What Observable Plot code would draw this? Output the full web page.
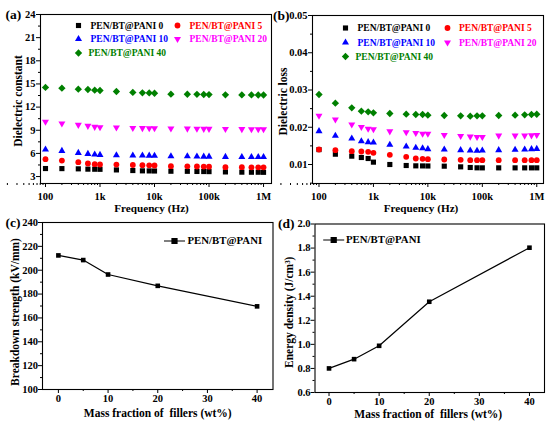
<!DOCTYPE html>
<html>
<head>
<meta charset="utf-8">
<script src="https://cdn.jsdelivr.net/npm/d3@7"></script>
<script src="https://cdn.jsdelivr.net/npm/@observablehq/plot@0.6"></script>
<style>
  html, body { margin: 0; padding: 0; background: #fff; }
  #wrap { position: relative; width: 550px; height: 424px; background: #fff; overflow: hidden; }
  #wrap > svg { position: absolute; }
</style>
</head>
<body>
<div id="wrap"></div>
<script>
// ---------------- data ----------------
const freq = [100, 200, 400, 600, 800, 1e3, 2e3, 4e3, 6e3, 8e3, 1e4, 2e4, 4e4, 6e4, 8e4, 1e5, 2e5, 4e5, 6e5, 8e5, 1e6];
const seriesNames = ["PEN/BT@PANI 0", "PEN/BT@PANI 5", "PEN/BT@PANI 10", "PEN/BT@PANI 20", "PEN/BT@PANI 40"];
const seriesColors = ["#000000", "#ff0000", "#0000ff", "#ff00ff", "#008000"];

const dcPani0  = [4.04, 4.03, 4.00, 3.96, 3.95, 3.94, 3.86, 3.78, 3.74, 3.73, 3.72, 3.69, 3.68, 3.66, 3.65, 3.64, 3.60, 3.57, 3.56, 3.56, 3.55];
const dcPani5  = [5.25, 5.07, 4.86, 4.69, 4.60, 4.56, 4.55, 4.50, 4.47, 4.45, 4.43, 4.35, 4.33, 4.30, 4.29, 4.28, 4.22, 4.21, 4.20, 4.20, 4.20];
const dcPani10 = [6.50, 6.33, 6.07, 5.94, 5.85, 5.81, 5.77, 5.73, 5.72, 5.71, 5.70, 5.64, 5.62, 5.59, 5.58, 5.58, 5.55, 5.54, 5.54, 5.53, 5.53];
const dcPani20 = [10.10, 9.87, 9.70, 9.57, 9.44, 9.40, 9.35, 9.30, 9.28, 9.27, 9.26, 9.22, 9.21, 9.19, 9.18, 9.18, 9.17, 9.15, 9.14, 9.14, 9.14];
const dcPani40 = [14.55, 14.45, 14.32, 14.28, 14.19, 14.15, 14.02, 13.90, 13.85, 13.84, 13.80, 13.68, 13.67, 13.66, 13.63, 13.62, 13.59, 13.58, 13.58, 13.57, 13.57];

const lossPani0  = [0.01400, 0.01277, 0.01224, 0.01188, 0.01161, 0.01063, 0.01000, 0.00973, 0.00964, 0.00962, 0.00960, 0.00955, 0.00937, 0.00920, 0.00911, 0.00910, 0.00910, 0.00910, 0.00910, 0.00910, 0.00910];
const lossPani5  = [0.01403, 0.01385, 0.01358, 0.01349, 0.01340, 0.01313, 0.01260, 0.01206, 0.01161, 0.01152, 0.01143, 0.01134, 0.01125, 0.01116, 0.01116, 0.01116, 0.01116, 0.01116, 0.01116, 0.01116, 0.01116];
const lossPani10 = [0.01895, 0.01770, 0.01698, 0.01626, 0.01600, 0.01591, 0.01528, 0.01483, 0.01447, 0.01438, 0.01412, 0.01403, 0.01385, 0.01376, 0.01367, 0.01376, 0.01385, 0.01394, 0.01403, 0.01412, 0.01420];
const lossPani20 = [0.02310, 0.02210, 0.02075, 0.02005, 0.01960, 0.01945, 0.01890, 0.01865, 0.01845, 0.01828, 0.01826, 0.01790, 0.01765, 0.01748, 0.01740, 0.01740, 0.01775, 0.01775, 0.01775, 0.01782, 0.01790];
const lossPani40 = [0.02880, 0.02647, 0.02521, 0.02432, 0.02414, 0.02387, 0.02369, 0.02351, 0.02342, 0.02342, 0.02324, 0.02315, 0.02306, 0.02297, 0.02306, 0.02306, 0.02315, 0.02324, 0.02333, 0.02342, 0.02350];

const fillerFraction = [0, 5, 10, 20, 40];
const breakdownStrength = [212.4, 208.5, 196.4, 186.9, 169.7];
const energyDensity = [0.800, 0.877, 0.988, 1.354, 1.803];

const freqTicks = [1e2, 1e3, 1e4, 1e5, 1e6];
const freqTickLabels = ["100", "1k", "10k", "100k", "1M"];
const legendName = "PEN/BT@PANI";

// ---------------- helpers ----------------
const dcArrays = [dcPani0, dcPani5, dcPani10, dcPani20, dcPani40];
const lossArrays = [lossPani0, lossPani5, lossPani10, lossPani20, lossPani40];

const triangleDown = {
  draw(context, size) {
    const y = -Math.sqrt(size / (Math.sqrt(3) * 3));
    context.moveTo(0, -y * 2);
    context.lineTo(-Math.sqrt(3) * y, y);
    context.lineTo(Math.sqrt(3) * y, y);
    context.closePath();
  }
};
const lineSquare = {
  draw(context, size) {
    const h = 2.5;
    context.moveTo(-10.5, 0);
    context.lineTo(10.5, 0);
    context.moveTo(-h, -h);
    context.lineTo(h, -h);
    context.lineTo(h, h);
    context.lineTo(-h, h);
    context.closePath();
  }
};
const seriesSymbols = ["square", "circle", "triangle", triangleDown, "diamond2"];
const seriesR = [2.9, 2.9, 2.6, 2.6, 3.3];

const minorLog = [];
for (const d of [10, 100, 1e3, 1e4, 1e5]) for (let k = 2; k <= 9; k++) minorLog.push(k * d);

const font = "'Liberation Serif', 'Times New Roman', serif";
const baseStyle = {fontFamily: font, fontWeight: "bold", fontSize: "10.5px", color: "black", background: "transparent", overflow: "visible"};
const fmtFreq = v => freqTickLabels[freqTicks.indexOf(v)] ?? "";

function rowsFor(arrays) {
  const rows = [];
  arrays.forEach((arr, i) => arr.forEach((v, j) => rows.push({f: freq[j], v, s: i})));
  return rows;
}

function seriesDots(rows) {
  return seriesNames.map((n, i) =>
    Plot.dot(rows.filter(d => d.s === i), {x: "f", y: "v", symbol: seriesSymbols[i], fill: seriesColors[i], r: seriesR[i], stroke: "none"})
  );
}

function seriesLegend(layout) {
  const marks = [];
  seriesNames.forEach((n, i) => {
    const col = i % 2, row = Math.floor(i / 2);
    marks.push(Plot.dot([n], {frameAnchor: "top-left", dx: layout.mx[col], dy: layout.rows[row], symbol: seriesSymbols[i], fill: seriesColors[i], r: seriesR[i]}));
    marks.push(Plot.text([n], {frameAnchor: "top-left", dx: layout.tx[col] + (row === 2 ? layout.row3shift : 0), dy: layout.rows[row], text: d => d, textAnchor: "start", lineAnchor: "middle", fill: seriesColors[i], fontSize: 9.5, fontWeight: "bold"}));
  });
  return marks;
}

function titles(xLabel, yLabel, o) {
  return [
    Plot.text([xLabel], {frameAnchor: "bottom", dx: o.xdx, dy: o.xdy, text: d => d, textAnchor: "middle", lineAnchor: "middle", fontSize: o.xfs ?? 11.5, fontWeight: "bold"}),
    Plot.text([yLabel], {frameAnchor: "left", dx: o.ydx, dy: o.ydy, rotate: -90, text: d => d, textAnchor: "middle", lineAnchor: "middle", fontSize: 11.5, fontWeight: "bold"}),
    Plot.text([o.panel], {frameAnchor: "top-left", dx: o.pdx, dy: o.pdy, text: d => d, textAnchor: "start", lineAnchor: "middle", fontSize: 13.5, fontWeight: "bold"})
  ];
}

// ---------------- panel (a) ----------------
const panelA = Plot.plot({
  width: 275, height: 212,
  marginLeft: 40, marginRight: 4, marginTop: 14, marginBottom: 29,
  x: {type: "log", domain: [81, 1.4e6]},
  y: {domain: [2.1, 24]},
  style: baseStyle,
  marks: [
    Plot.axisX({ticks: minorLog, tickSize: 2, tickFormat: () => "", label: null}),
    Plot.axisX({ticks: freqTicks, tickSize: 4, tickPadding: 5, tickFormat: fmtFreq, label: null}),
    Plot.axisY({ticks: d3.range(4.5, 24, 3), tickSize: 2, tickFormat: () => "", label: null}),
    Plot.axisY({ticks: d3.range(3, 25, 3), tickSize: 4, tickPadding: 1, label: null}),
    Plot.frame({stroke: "black", strokeWidth: 1.1}),
    ...seriesDots(rowsFor(dcArrays)),
    ...seriesLegend({mx: [38, 137], tx: [50, 149], rows: [11, 24.5, 38.5], row3shift: -2}),
    ...titles("Frequency (Hz)", "Dielectric constant", {xdx: -4.5, xdy: 25, xfs: 11.2, ydx: -22, ydy: 2, panel: "(a)", pdx: -35, pdy: 0})
  ]
});

// ---------------- panel (b) ----------------
const panelB = Plot.plot({
  width: 275, height: 212,
  marginLeft: 37, marginRight: 7, marginTop: 15, marginBottom: 29,
  x: {type: "log", domain: [76, 1.33e6]},
  y: {domain: [0.0049, 0.05]},
  style: baseStyle,
  marks: [
    Plot.axisX({ticks: minorLog, tickSize: 2, tickFormat: () => "", label: null}),
    Plot.axisX({ticks: freqTicks, tickSize: 4, tickPadding: 5, tickFormat: fmtFreq, label: null}),
    Plot.axisY({ticks: d3.range(0.005, 0.05, 0.01), tickSize: 2, tickFormat: () => "", label: null}),
    Plot.axisY({ticks: [0.01, 0.02, 0.03, 0.04, 0.05], tickSize: 4, tickPadding: 1, tickFormat: d3.format(".2f"), label: null}),
    Plot.frame({stroke: "black", strokeWidth: 1.1}),
    ...seriesDots(rowsFor(lossArrays)),
    ...seriesLegend({mx: [33, 135], tx: [45, 146.5], rows: [12.5, 27, 41], row3shift: -2}),
    ...titles("Frequency (Hz)", "Dielectric loss", {xdx: -7, xdy: 25, xfs: 11.2, ydx: -29.5, ydy: 2, panel: "(b)", pdx: -39.5, pdy: 0})
  ]
});

// ---------------- panel (c) ----------------
const rowsC = fillerFraction.map((x, i) => ({x, v: breakdownStrength[i]}));
const panelC = Plot.plot({
  width: 275, height: 212,
  marginLeft: 42, marginRight: 2.5, marginTop: 10, marginBottom: 35,
  x: {domain: [-3.2, 43.2]},
  y: {domain: [100, 240]},
  style: baseStyle,
  marks: [
    Plot.axisX({ticks: [5, 15, 25, 35], tickSize: 2, tickFormat: () => "", label: null}),
    Plot.axisX({ticks: [0, 10, 20, 30, 40], tickSize: 4, tickPadding: 1, label: null}),
    Plot.axisY({ticks: d3.range(110, 240, 20), tickSize: 2, tickFormat: () => "", label: null}),
    Plot.axisY({ticks: d3.range(100, 241, 20), tickSize: 4, tickPadding: 0.5, label: null}),
    Plot.frame({stroke: "black", strokeWidth: 1.1}),
    Plot.line(rowsC, {x: "x", y: "v", stroke: "black", strokeWidth: 1.2}),
    Plot.dot(rowsC, {x: "x", y: "v", symbol: "square", fill: "black", r: 2.6}),
    Plot.dot([legendName], {frameAnchor: "top-left", dx: 132, dy: 18.5, symbol: lineSquare, fill: "black", stroke: "black", strokeWidth: 1.2}),
    Plot.text([legendName], {frameAnchor: "top-left", dx: 145, dy: 18.5, text: d => d, textAnchor: "start", lineAnchor: "middle", fontSize: 10.8, fontWeight: "bold"}),
    ...titles("Mass fraction of  fillers (wt%)", "Breakdown strength (kV/mm)", {xdx: 0, xdy: 24, ydx: -27.5, ydy: 6, panel: "(c)", pdx: -37, pdy: 0})
  ]
});

// ---------------- panel (d) ----------------
const rowsD = fillerFraction.map((x, i) => ({x, v: energyDensity[i]}));
const panelD = Plot.plot({
  width: 275, height: 212,
  marginLeft: 39.5, marginRight: 6, marginTop: 11.5, marginBottom: 32,
  x: {domain: [-2.8, 43]},
  y: {domain: [0.6, 2.0]},
  style: baseStyle,
  marks: [
    Plot.axisX({ticks: [5, 15, 25, 35], tickSize: 2, tickFormat: () => "", label: null}),
    Plot.axisX({ticks: [0, 10, 20, 30, 40], tickSize: 4, tickPadding: 1, label: null}),
    Plot.axisY({ticks: [0.7, 0.9, 1.1, 1.3, 1.5, 1.7, 1.9], tickSize: 2, tickFormat: () => "", label: null}),
    Plot.axisY({ticks: [0.6, 0.8, 1.0, 1.2, 1.4, 1.6, 1.8, 2.0], tickSize: 4, tickPadding: 0.5, tickFormat: d3.format(".1f"), label: null}),
    Plot.frame({stroke: "black", strokeWidth: 1.1}),
    Plot.line(rowsD, {x: "x", y: "v", stroke: "black", strokeWidth: 1.2}),
    Plot.dot(rowsD, {x: "x", y: "v", symbol: "square", fill: "black", r: 2.6}),
    Plot.dot([legendName], {frameAnchor: "top-left", dx: 18.7, dy: 16, symbol: lineSquare, fill: "black", stroke: "black", strokeWidth: 1.2}),
    Plot.text([legendName], {frameAnchor: "top-left", dx: 31, dy: 16, text: d => d, textAnchor: "start", lineAnchor: "middle", fontSize: 10.8, fontWeight: "bold"}),
    ...titles("Mass fraction of  fillers (wt%)", "Energy density (J/cm³)", {xdx: -1.5, xdy: 22, ydx: -26, ydy: 4, panel: "(d)", pdx: -37, pdy: 0})
  ]
});

const wrap = document.getElementById("wrap");
[[panelA, 0, 0], [panelB, 275, 0], [panelC, 0, 212], [panelD, 275, 212]].forEach(([svg, l, t]) => {
  svg.style.left = l + "px";
  svg.style.top = t + "px";
  wrap.appendChild(svg);
});
</script>
</body>
</html>
